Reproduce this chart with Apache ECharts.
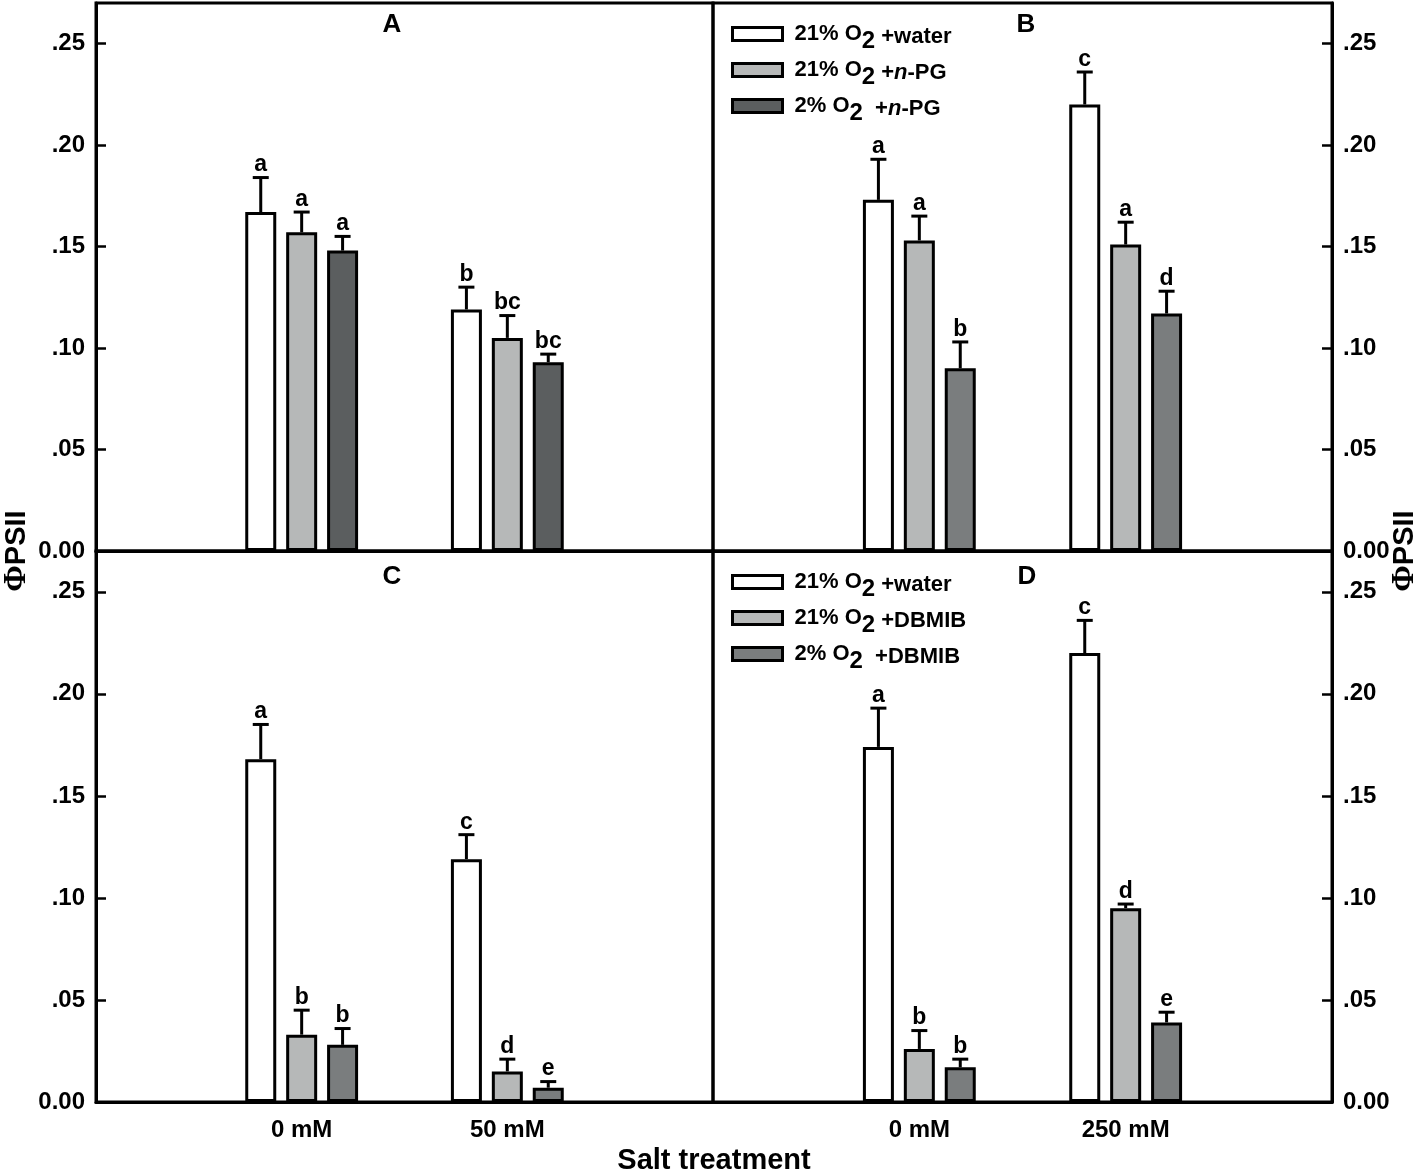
<!DOCTYPE html>
<html>
<head>
<meta charset="utf-8">
<script src="https://cdn.jsdelivr.net/npm/echarts@6/dist/echarts.min.js"></script>
<style>
html, body { margin: 0; padding: 0; background: #fff; }
#main { width: 1418px; height: 1173px; }
</style>
</head>
<body>
<div id="main"></div>
<script>
// categories
var catsAC = ['0 mM', '50 mM'];
var catsBD = ['0 mM', '250 mM'];
var namesPG = ['21% O2 +water', '21% O2 +n-PG', '2% O2  +n-PG'];
var namesDB = ['21% O2 +water', '21% O2 +DBMIB', '2% O2  +DBMIB'];
var yTicks = [0, 0.05, 0.10, 0.15, 0.20, 0.25];
var yMax = 0.27;

// panel A (n-PG, 0/50 mM)
var aWater = [0.167, 0.119], aWaterSe = [0.017, 0.011], aWaterLt = ['a', 'b'];
var aPg21 = [0.157, 0.105], aPg21Se = [0.010, 0.011], aPg21Lt = ['a', 'bc'];
var aPg2 = [0.148, 0.093], aPg2Se = [0.007, 0.004], aPg2Lt = ['a', 'bc'];

// panel B (n-PG, 0/250 mM)
var bWater = [0.173, 0.220], bWaterSe = [0.020, 0.016], bWaterLt = ['a', 'c'];
var bPg21 = [0.153, 0.151], bPg21Se = [0.012, 0.011], bPg21Lt = ['a', 'a'];
var bPg2 = [0.090, 0.117], bPg2Se = [0.013, 0.011], bPg2Lt = ['b', 'd'];

// panel C (DBMIB, 0/50 mM)
var cWater = [0.168, 0.119], cWaterSe = [0.017, 0.012], cWaterLt = ['a', 'c'];
var cDb21 = [0.033, 0.015], cDb21Se = [0.012, 0.006], cDb21Lt = ['b', 'd'];
var cDb2 = [0.028, 0.007], cDb2Se = [0.008, 0.003], cDb2Lt = ['b', 'e'];

// panel D (DBMIB, 0/250 mM)
var dWater = [0.174, 0.220], dWaterSe = [0.019, 0.016], dWaterLt = ['a', 'c'];
var dDb21 = [0.026, 0.095], dDb21Se = [0.009, 0.002], dDb21Lt = ['b', 'd'];
var dDb2 = [0.017, 0.039], dDb2Se = [0.004, 0.005], dDb2Lt = ['b', 'e'];

var panels = [
    {cats: catsAC, names: namesPG, vals: [aWater, aPg21, aPg2], se: [aWaterSe, aPg21Se, aPg2Se], lt: [aWaterLt, aPg21Lt, aPg2Lt], colors: ['#ffffff', '#b6b8b8', '#5b5e5f']},
    {cats: catsBD, names: namesPG, vals: [bWater, bPg21, bPg2], se: [bWaterSe, bPg21Se, bPg2Se], lt: [bWaterLt, bPg21Lt, bPg2Lt], colors: ['#ffffff', '#b6b8b8', '#7a7d7e']},
    {cats: catsAC, names: namesDB, vals: [cWater, cDb21, cDb2], se: [cWaterSe, cDb21Se, cDb2Se], lt: [cWaterLt, cDb21Lt, cDb2Lt], colors: ['#ffffff', '#b6b8b8', '#7a7d7e']},
    {cats: catsBD, names: namesDB, vals: [dWater, dDb21, dDb2], se: [dWaterSe, dDb21Se, dDb2Se], lt: [dWaterLt, dDb21Lt, dDb2Lt], colors: ['#ffffff', '#b6b8b8', '#7a7d7e']}
];

var FONT = "'Liberation Sans', Arial, sans-serif";
var barWidth = 31;
var barGap = 0.32;
var barStep = barWidth * (1 + barGap);

var grids = [
    {left: 96, top: 3, width: 617, height: 548},
    {left: 713, top: 3, width: 619, height: 548},
    {left: 96, top: 551, width: 617, height: 551},
    {left: 713, top: 551, width: 619, height: 551}
];

function tickFmt(v) {
    if (v === 0) return '0.00';
    return v.toFixed(2).replace(/^0/, '');
}

function legendFmt(name) {
    var parts = name.split('O2');
    var rest = parts[1].replace(/ /g, '\u00a0');
    var tail;
    if (rest.indexOf('n-') >= 0) {
        var r = rest.split('n-');
        tail = '{p|' + r[0] + '}{i|n}{p|-' + r[1] + '}';
    } else {
        tail = '{p|' + rest + '}';
    }
    return '{t|' + parts[0] + 'O}{s|2}' + tail;
}

var legendRich = {
    t: {fontFamily: FONT, fontSize: 22, fontWeight: 'bold', color: '#000', padding: [0, 0, 0, 7]},
    s: {fontFamily: FONT, fontSize: 24, fontWeight: 'bold', color: '#000', padding: [14, 0, 0, 0]},
    p: {fontFamily: FONT, fontSize: 22, fontWeight: 'bold', color: '#000', padding: [6, 0, 0, 0]},
    i: {fontFamily: FONT, fontSize: 22, fontWeight: 'bold', fontStyle: 'italic', color: '#000', padding: [6, 0, 0, 0]}
};

var xAxes = [], yAxes = [], series = [];

panels.forEach(function (p, pi) {
    xAxes.push({
        type: 'category',
        gridIndex: pi,
        data: [''].concat(p.cats).concat(['']),
        boundaryGap: false,
        axisLine: {show: true, lineStyle: {color: '#000', width: 3}},
        axisTick: {show: false},
        splitLine: {show: false},
        axisLabel: {
            show: pi >= 2,
            interval: 0,
            margin: 16,
            color: '#000',
            fontFamily: FONT,
            fontSize: 24,
            fontWeight: 'bold'
        }
    });
    yAxes.push({
        type: 'value',
        gridIndex: pi,
        position: pi % 2 === 0 ? 'left' : 'right',
        min: yTicks[0],
        max: yMax,
        interval: yTicks[1] - yTicks[0],
        splitLine: {show: false},
        axisLine: {show: true, lineStyle: {color: '#000', width: 3}},
        axisTick: {show: true, inside: true, length: 10, lineStyle: {color: '#000', width: 2.5}},
        axisLabel: {
            formatter: tickFmt,
            showMaxLabel: false,
            margin: 11,
            color: '#000',
            fontFamily: FONT,
            fontSize: 24,
            fontWeight: 'bold'
        }
    });

    var items = [];
    p.vals.forEach(function (vals, k) {
        series.push({
            type: 'bar',
            name: p.names[k],
            xAxisIndex: pi,
            yAxisIndex: pi,
            barWidth: barWidth,
            barGap: (barGap * 100) + '%',
            data: ['-'].concat(vals).concat(['-']),
            itemStyle: {color: p.colors[k], borderColor: '#000', borderWidth: 3},
            emphasis: {disabled: true},
            z: 2
        });
        vals.forEach(function (v, c) {
            items.push({cat: c + 1, k: k, value: v, se: p.se[k][c], letter: p.lt[k][c]});
        });
    });

    series.push({
        type: 'custom',
        xAxisIndex: pi,
        yAxisIndex: pi,
        z: 3,
        silent: true,
        encode: {x: 0, y: 1},
        data: items.map(function (d) { return [d.cat, d.value + d.se]; }),
        renderItem: function (params, api) {
            var it = items[params.dataIndex];
            var base = api.coord([it.cat, it.value]);
            var top = api.coord([it.cat, it.value + it.se]);
            var x = base[0] + (it.k - 1) * barStep;
            return {
                type: 'group',
                children: [
                    {type: 'line', shape: {x1: x, y1: base[1], x2: x, y2: top[1]}, style: {stroke: '#000', lineWidth: 3}},
                    {type: 'line', shape: {x1: x - 8, y1: top[1], x2: x + 8, y2: top[1]}, style: {stroke: '#000', lineWidth: 3}},
                    {type: 'text', x: x, y: top[1] - 1, style: {text: it.letter, textAlign: 'center', textVerticalAlign: 'bottom', font: 'bold 23px ' + FONT, fill: '#000'}}
                ]
            };
        }
    });
});

function legendFor(names, top) {
    return {
        orient: 'vertical',
        left: 726,
        top: top,
        icon: 'rect',
        itemWidth: 50,
        itemHeight: 13,
        itemGap: 6,
        selectedMode: false,
        data: names,
        formatter: legendFmt,
        itemStyle: {borderColor: '#000', borderWidth: 3},
        textStyle: {color: '#000', fontFamily: FONT, fontSize: 22, fontWeight: 'bold', rich: legendRich}
    };
}

var titleRich = {
    phi: {fontFamily: "'Liberation Serif', serif", fontSize: 32, fontWeight: 'bold', fill: '#000'},
    b: {fontFamily: FONT, fontSize: 29, fontWeight: 'bold', fill: '#000'}
};

function panelLetter(txt, x, y) {
    return {type: 'text', x: x, y: y, style: {text: txt, textAlign: 'center', textVerticalAlign: 'middle', font: 'bold 26px ' + FONT, fill: '#000'}};
}

var myChart = echarts.init(document.getElementById('main'));
myChart.setOption({
    animation: false,
    backgroundColor: '#fff',
    grid: grids.map(function (g) {
        return {left: g.left, top: g.top, width: g.width, height: g.height, show: true, borderColor: '#000', borderWidth: 3, backgroundColor: 'transparent', containLabel: false};
    }),
    legend: [legendFor(namesPG, 18), legendFor(namesDB, 566)],
    xAxis: xAxes,
    yAxis: yAxes,
    series: series,
    graphic: [
        panelLetter('A', 392, 25),
        panelLetter('B', 1026, 25),
        panelLetter('C', 392, 577),
        panelLetter('D', 1027, 577),
        {type: 'text', x: 17, y: 551, rotation: Math.PI / 2, style: {text: '{phi|\u03a6}{b|PSII}', rich: titleRich, textAlign: 'center', textVerticalAlign: 'middle'}},
        {type: 'text', x: 1405, y: 551, rotation: Math.PI / 2, style: {text: '{phi|\u03a6}{b|PSII}', rich: titleRich, textAlign: 'center', textVerticalAlign: 'middle'}},
        {type: 'text', x: 714, y: 1161, style: {text: 'Salt treatment', textAlign: 'center', textVerticalAlign: 'middle', font: 'bold 29px ' + FONT, fill: '#000'}}
    ]
});
</script>
</body>
</html>
